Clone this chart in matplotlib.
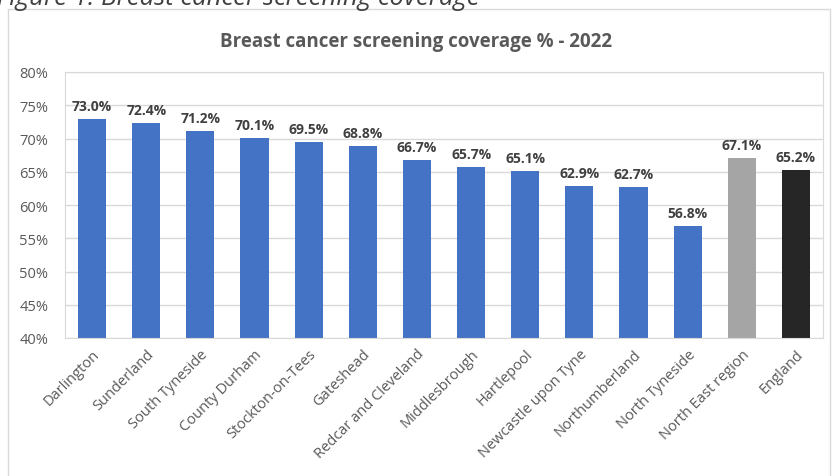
import matplotlib.pyplot as plt
from matplotlib.patches import Rectangle
from matplotlib.ticker import PercentFormatter

areas = ["Darlington", "Sunderland", "South Tyneside", "County Durham",
         "Stockton-on-Tees", "Gateshead", "Redcar and Cleveland",
         "Middlesbrough", "Hartlepool", "Newcastle upon Tyne",
         "Northumberland", "North Tyneside", "North East region", "England"]
coverage = [73.0, 72.4, 71.2, 70.1, 69.5, 68.8, 66.7, 65.7, 65.1, 62.9,
            62.7, 56.8, 67.1, 65.2]
bar_colors = ["#4472C4"] * 12 + ["#A5A5A5", "#262626"]

plt.rcParams["font.family"] = ["Open Sans", "DejaVu Sans"]
text_grey = "#595959"

fig = plt.figure(figsize=(8.32, 4.77), dpi=100)

# outer chart frame
fig.patches.append(Rectangle((8 / 832, -0.01), 822 / 832, 1 - 10 / 477 + 0.01,
                             transform=fig.transFigure, fill=False,
                             edgecolor="#D9D9D9", linewidth=1))

# caption cut off at the top
fig.text(-0.004, 1 - 5 / 477, "Figure 1: Breast cancer screening coverage",
         fontsize=18.5, style="italic", color="#404040", va="baseline", ha="left")

ax = fig.add_axes([65 / 832, 1 - 339 / 477, 758 / 832, (339 - 73) / 477])
x = range(len(areas))
bars = ax.bar(x, coverage, width=0.52, color=bar_colors, zorder=2)

for xi, v in zip(x, coverage):
    ax.text(xi, v + 0.9, f"{v:.1f}%", ha="center", va="bottom",
            fontsize=10, fontweight="bold", color="#404040")

ax.set_ylim(40, 80)
ax.set_xlim(-0.5, len(areas) - 0.5)
ax.set_yticks(range(40, 81, 5))
ax.yaxis.set_major_formatter(PercentFormatter(decimals=0))
ax.grid(axis="y", color="#D9D9D9", linewidth=1, zorder=0)
for s in ax.spines.values():
    s.set_color("#D9D9D9")
ax.tick_params(axis="both", length=0, colors=text_grey, labelsize=10.5)
ax.tick_params(axis="y", pad=12)
ax.tick_params(axis="x", pad=6)
ax.set_xticks(list(x))
ax.set_xticklabels(areas, rotation=45, ha="right", rotation_mode="anchor")

fig.text(0.5, 1 - 42 / 477, "Breast cancer screening coverage % - 2022",
         ha="center", va="center", fontsize=13.5, fontweight="bold",
         color=text_grey)

fig.savefig("out.png", dpi=100)
